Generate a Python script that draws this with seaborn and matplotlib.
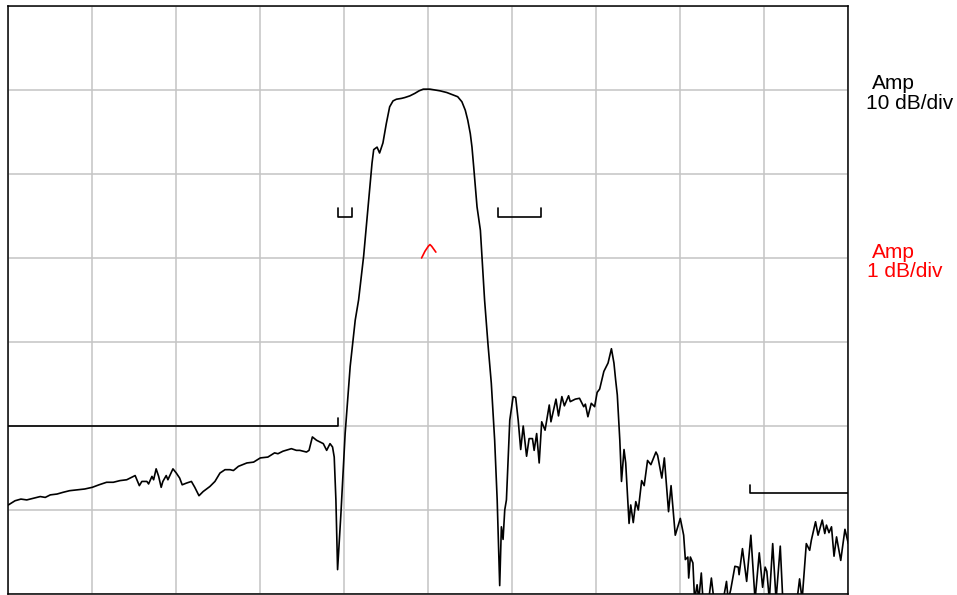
import numpy as np
import pandas as pd
import matplotlib
matplotlib.use("Agg")
import matplotlib.pyplot as plt
import seaborn as sns

# ---- data (x: frequency in % of span, y: amplitude in dB) ----
freq = [0.0, 0.8, 1.5, 2.2, 3.0, 3.8, 4.4, 5.0, 5.8, 6.5, 7.3, 8.2, 9.1, 10.0, 10.8, 11.7, 12.5, 13.3,
        14.1, 15.1, 15.6, 15.9, 16.5, 16.7, 17.1, 17.3, 17.6, 17.9, 18.2, 18.4, 18.8, 19.0, 19.6,
        20.0, 20.4, 20.7, 21.2, 21.8, 22.2, 22.7, 23.2, 24.0, 24.6, 25.2, 25.8, 26.4, 26.8, 27.4,
        28.4, 29.2, 30.0, 30.9, 31.7, 32.1, 32.7, 33.7, 34.3, 34.7, 35.5, 35.8, 36.2, 36.7, 37.3,
        37.5, 37.9, 38.3, 38.6, 38.8, 39.0, 39.2, 39.6, 40.1, 40.7, 41.3, 41.7, 42.3, 42.9, 43.3,
        43.5, 43.9, 44.2, 44.6, 45.0, 45.4, 45.8, 46.2, 46.8, 47.2, 47.8, 48.4, 48.9, 49.4, 50.2,
        50.8, 51.4, 52.2, 53.0, 53.5, 54.0, 54.4, 54.7, 55.0, 55.2, 55.4,
        55.8, 56.2, 56.7, 57.1, 57.5, 57.9, 58.2, 58.5, 58.7, 58.9, 59.1, 59.3, 59.7,
        60.1, 60.4, 60.7, 61.0, 61.3, 61.7, 62.0, 62.4, 62.6, 62.9, 63.2, 63.5, 63.9, 64.4, 64.6,
        65.2, 65.5, 65.9, 66.2, 66.7, 66.9, 67.5, 68.0, 68.5, 68.7, 69.0, 69.4, 69.8, 70.1, 70.4,
        70.9, 71.4, 71.8, 72.1, 72.3, 72.5, 72.8, 73.0, 73.3, 73.5, 73.9, 74.1, 74.4, 74.7, 75.0,
        75.4, 75.7, 76.1, 76.5, 77.1, 77.3, 77.8, 78.1, 78.6, 78.9, 79.4, 80.0, 80.4, 80.6, 80.9,
        81.0, 81.2, 81.5, 81.7, 82.0, 82.2, 82.5, 82.7, 83.1, 83.7, 84.0, 84.7, 85.5, 85.7, 86.0,
        86.5, 86.9, 87.0, 87.4, 87.9, 88.4, 88.9, 89.4, 89.8, 90.1, 90.3, 90.6, 91.0, 91.4, 91.9,
        92.2, 93.1, 93.9, 94.2, 94.5, 95.0, 95.4, 95.6, 96.1, 96.4, 96.9, 97.2, 97.4, 97.7, 98.0,
        98.3, 98.6, 99.1, 99.6, 100.0]
amp_db = [-49.4, -48.9, -48.7, -48.8, -48.6, -48.4, -48.5, -48.2, -48.1, -47.9, -47.7, -47.6, -47.5,
          -47.3, -47.0, -46.7, -46.7, -46.5, -46.4, -45.9, -47.1, -46.6, -46.6, -46.9, -46.0, -46.4,
          -45.1, -46.0, -47.3, -46.6, -45.9, -46.4, -45.1, -45.6, -46.2, -47.0, -46.8, -46.6, -47.3,
          -48.3, -47.8, -47.2, -46.6, -45.6, -45.2, -45.2, -45.3, -44.8, -44.4, -44.3, -43.8, -43.7,
          -43.2, -43.3, -43.0, -42.7, -42.9, -42.9, -43.1, -42.9, -41.3, -41.7, -42.0, -42.1, -42.9,
          -42.1, -42.5, -43.7, -48.8, -57.1, -50.4, -40.9, -32.9, -27.4, -25.0, -19.8, -13.1, -8.7,
          -7.1, -6.8, -7.5, -6.3, -4.0, -2.0, -1.3, -1.1, -1.0, -0.9, -0.7, -0.4, -0.1, 0.1, 0.1,
          0.0, -0.1, -0.3, -0.6, -0.8, -1.4, -2.4, -3.6, -5.2, -6.8, -9.1,
          -13.9, -16.7, -25.0, -30.2, -34.9, -41.7, -48.8, -59.0, -52.0, -53.5, -50.0,
          -48.8, -39.3, -36.5, -36.6, -39.3, -42.8, -40.0, -43.6, -41.5, -41.5, -42.9, -40.9, -44.4,
          -39.5, -40.5, -37.5, -39.5, -36.8, -38.8, -36.5, -37.6, -36.4, -37.1, -36.8, -36.7, -37.7,
          -37.4, -38.9, -37.3, -37.7, -36.0, -35.6, -33.5, -32.5, -30.8, -32.5, -34.5, -36.3, -41.7,
          -46.6, -42.8, -44.4, -51.6, -49.4, -51.5, -49.0, -50.0, -46.5, -47.1, -44.1, -44.6, -43.1,
          -43.5, -46.2, -43.8, -50.2, -47.1, -53.0, -51.0, -53.0, -55.9, -55.6, -58.1, -55.6, -56.3,
          -60.7, -58.9, -60.7, -57.5, -60.7, -63.0, -58.1, -60.7, -63.0, -58.5, -60.7, -59.5, -56.7,
          -56.8, -57.7, -54.6, -58.5, -53.0, -60.7, -55.1, -59.2, -56.8, -57.3, -60.7, -54.0, -60.7,
          -54.3, -60.7, -63.0, -60.7, -58.2, -60.7, -54.0, -54.8, -53.6, -51.4, -53.0, -51.2, -52.8,
          -51.8, -52.7, -52.0, -55.5, -53.2, -56.0, -52.3, -54.0]

# passband trace at 1 dB/div (only visible fragment)
fine_freq = [49.2, 49.6, 50.0, 50.2, 50.4, 50.9]
fine_amp = [-20.0, -19.2, -18.6, -18.4, -18.6, -19.3]

# spec masks
mask_low_x = [0.0, 39.2, 39.2]
mask_low_y = [-40.0, -40.0, -39.0]
bracket_l_x = [39.2, 39.2, 40.9, 40.9]
bracket_r_x = [58.3, 58.3, 63.4, 63.4]
bracket_y = [-14.0, -15.1, -15.1, -14.0]
mask_high_x = [88.3, 88.3, 100.0]
mask_high_y = [-47.0, -48.0, -48.0]

sns.set_theme(style="white")
plt.rcParams['font.family'] = ['Liberation Sans', 'DejaVu Sans']

W, H = 957, 595
fig = plt.figure(figsize=(W / 100, H / 100), dpi=100)
ax = fig.add_axes([8.3 / W, 1 - 594 / H, (848.3 - 8.3) / W, (594 - 6) / H])

ax.set_xlim(0, 100)
ax.set_ylim(-60, 10)
ax.set_xticks(np.arange(0, 101, 10))
ax.set_yticks(np.arange(-60, 11, 10))
ax.grid(True, color="#c4c4c4", linewidth=1.1)
ax.set_axisbelow(True)
ax.tick_params(left=False, bottom=False, labelleft=False, labelbottom=False)
for s in ax.spines.values():
    s.set_color("black")
    s.set_linewidth(1.1)

df = pd.DataFrame({"freq": freq, "amp": amp_db})
sns.lineplot(data=df, x="freq", y="amp", ax=ax, color="black", linewidth=1.2,
             estimator=None, sort=False)
sns.lineplot(x=fine_freq, y=fine_amp, ax=ax, color="red", linewidth=1.2,
             estimator=None, sort=False)
for mx, my in [(mask_low_x, mask_low_y), (bracket_l_x, bracket_y),
               (bracket_r_x, bracket_y), (mask_high_x, mask_high_y)]:
    sns.lineplot(x=mx, y=my, ax=ax, color="black", linewidth=1.2,
                 estimator=None, sort=False)
ax.set_xlim(0, 100)
ax.set_ylim(-60, 10)
ax.set_xlabel("")
ax.set_ylabel("")

fs = 15
fig.text(871.7 / W, 1 - 89.3 / H, "Amp", color="black", fontsize=fs, va="baseline", ha="left")
fig.text(866 / W, 1 - 109.3 / H, "10 dB/div", color="black", fontsize=fs, va="baseline", ha="left")
fig.text(871.7 / W, 1 - 258.3 / H, "Amp", color="red", fontsize=fs, va="baseline", ha="left")
fig.text(866.7 / W, 1 - 276.7 / H, "1 dB/div", color="red", fontsize=fs, va="baseline", ha="left")

fig.savefig("out.png", dpi=100, facecolor="white")
